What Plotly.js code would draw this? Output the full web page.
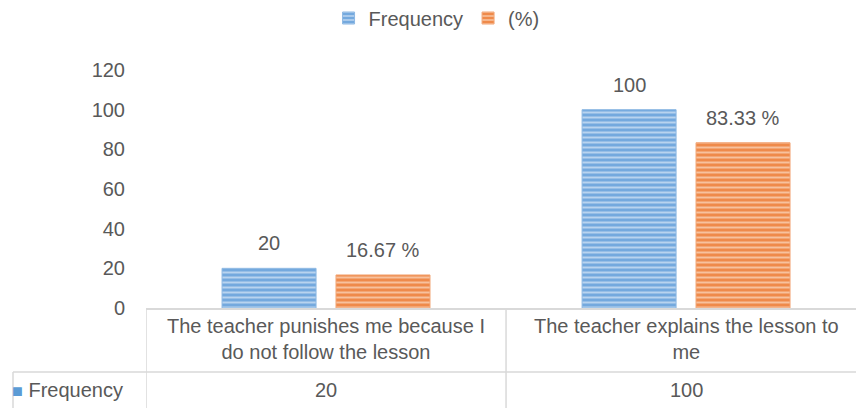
<!DOCTYPE html>
<html>
<head>
<meta charset="utf-8">
<script src="https://cdn.plot.ly/plotly-3.0.1.min.js"></script>
<style>html,body{margin:0;padding:0;background:#fff}#chart{width:856px;height:408px}</style>
</head>
<body>
<div id="chart"></div>
<script>
var categories = ["The teacher punishes me because I<br>do not follow the lesson", "The teacher explains the lesson to<br>me"];
var seriesNames = ["Frequency", "(%)"];
var frequency = [20, 100];
var percent = [16.67, 83.33];
var percentLabels = ["16.67 %", "83.33 %"];
var yTicks = [0, 20, 40, 60, 80, 100, 120];

var W = 856, H = 408;
var L = 146, R = 0, T = 70, B = 100;
var plotW = W - L - R, plotH = H - T - B;
function px(x) { return (x - L) / plotW; }
function py(y) { return (H - B - y) / plotH; }

var FONT = "Liberation Sans, Arial, sans-serif";
var TXT = "#595959";
var GRID = "#d9d9d9";
var BLUE = "#5b9bd5", ORANGE = "#ed7d31";

var idx = categories.map(function (c, i) { return i; });
var bargap = 0.367, bargroupgap = 0.175;
var slot = (1 - bargap) / 2;

var traces = [
  {
    type: "bar", name: seriesNames[0], x: idx, y: frequency,
    marker: { color: BLUE, line: { color: "#8db8e3", width: 1 },
      pattern: { shape: "-", fgcolor: "#b8d3ef", bgcolor: "#74a9de", size: 5, solidity: 0.4, fillmode: "replace" } },
    hoverinfo: "skip"
  },
  {
    type: "bar", name: seriesNames[1], x: idx, y: percent,
    marker: { color: ORANGE, line: { color: "#f2a677", width: 1 },
      pattern: { shape: "-", fgcolor: "#f7c19d", bgcolor: "#ef8a4a", size: 5, solidity: 0.4, fillmode: "replace" } },
    hoverinfo: "skip"
  }
];

var annotations = [];
idx.forEach(function (i) {
  annotations.push({ x: i - slot / 2, y: frequency[i], xref: "x", yref: "y", text: String(frequency[i]),
    showarrow: false, yanchor: "bottom", yshift: 12, font: { family: FONT, size: 20, color: TXT } });
  annotations.push({ x: i + slot / 2, y: percent[i], xref: "x", yref: "y", text: percentLabels[i],
    showarrow: false, yanchor: "bottom", yshift: 12, font: { family: FONT, size: 20, color: TXT } });
  annotations.push({ x: i, y: py(339), xref: "x", yref: "paper", text: categories[i],
    showarrow: false, xanchor: "center", yanchor: "middle", font: { family: FONT, size: 20, color: TXT } });
  annotations.push({ x: i, y: py(390), xref: "x", yref: "paper", text: String(frequency[i]),
    showarrow: false, xanchor: "center", yanchor: "middle", font: { family: FONT, size: 20, color: TXT } });
});
annotations.push({ x: px(10), y: py(390), xref: "paper", yref: "paper",
  text: '<span style="color:' + BLUE + ';font-size:18px">■</span> ' + seriesNames[0],
  showarrow: false, xanchor: "left", yanchor: "middle", font: { family: FONT, size: 20, color: TXT } });

var lineStyle = { color: GRID, width: 1.5 };
var shapes = [
  { type: "line", xref: "x", yref: "paper", x0: -0.5, x1: -0.5, y0: 0, y1: py(H), line: lineStyle },
  { type: "line", xref: "x", yref: "paper", x0: 0.5, x1: 0.5, y0: 0, y1: py(H), line: lineStyle },
  { type: "line", xref: "paper", yref: "paper", x0: px(13), x1: 1, y0: py(372), y1: py(372), line: lineStyle },
  { type: "line", xref: "paper", yref: "paper", x0: px(13), x1: px(13), y0: py(372), y1: py(H), line: lineStyle }
];

var layout = {
  width: W, height: H,
  margin: { l: L, r: R, t: T, b: B, pad: 0 },
  paper_bgcolor: "#fff", plot_bgcolor: "#fff",
  barmode: "group", bargap: bargap, bargroupgap: bargroupgap,
  showlegend: true,
  legend: { orientation: "h", xref: "container", yref: "container", x: 0.51, y: 1 - 18 / H,
    xanchor: "center", yanchor: "middle", font: { family: FONT, size: 20, color: TXT },
    itemwidth: 30, tracegroupgap: 0 },
  xaxis: { range: [-0.5, 1.472], showticklabels: false, ticks: "", showgrid: false, zeroline: false,
    showline: true, linecolor: GRID, linewidth: 1.5, fixedrange: true },
  yaxis: { range: [0, 120], tickvals: yTicks, ticktext: yTicks.map(String), showgrid: false, zeroline: false,
    showline: false, ticks: "", ticklabelstandoff: 20, tickfont: { family: FONT, size: 20, color: TXT }, fixedrange: true },
  annotations: annotations,
  shapes: shapes
};

Plotly.newPlot("chart", traces, layout, { displayModeBar: false, staticPlot: true });
</script>
</body>
</html>
